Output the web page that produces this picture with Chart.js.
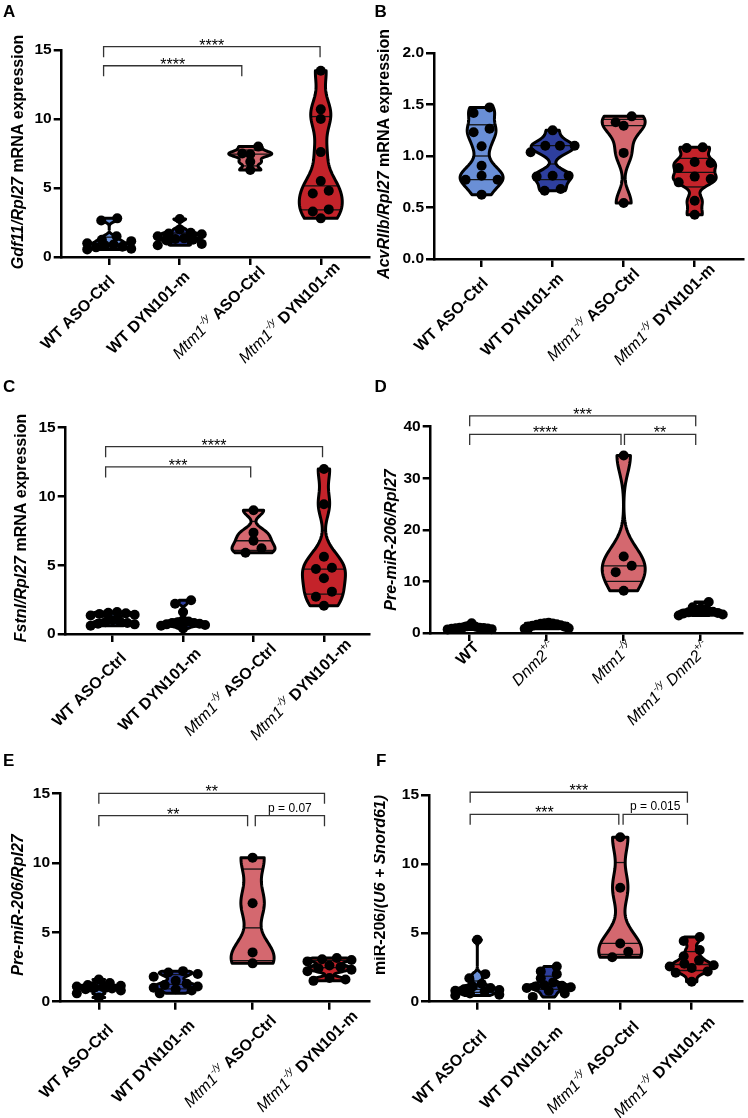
<!DOCTYPE html>
<html>
<head>
<meta charset="utf-8">
<script src="https://cdn.jsdelivr.net/npm/chart.js@4.4.1/dist/chart.umd.min.js"></script>
<style>
  body { margin: 0; background: #fff; }
  #page { position: relative; width: 748px; height: 1118px; overflow: hidden; }
  .panel { position: absolute; }
</style>
</head>
<body>
<div id="page"></div>
<script>
// Group colours (WT ctrl, WT treated, Mtm1 ctrl, Mtm1 treated)
const groupColors = ['#6a8fd6', '#2e3f9e', '#d4686f', '#c4232a'];

// Category labels, as [text, style] pieces
const treatmentLabels = [
    [['WT ASO-Ctrl', 'b']],
    [['WT DYN101-m', 'b']],
    [['Mtm1', 'i'], ['-/y', 'sup'], [' ASO-Ctrl', 'b']],
    [['Mtm1', 'i'], ['-/y', 'sup'], [' DYN101-m', 'b']]
];
const genotypeLabels = [
    [['WT', 'b']],
    [['Dnm2', 'i'], ['+/-', 'sup']],
    [['Mtm1', 'i'], ['-/y', 'sup']],
    [['Mtm1', 'i'], ['-/y', 'sup'], [' Dnm2', 'i'], ['+/-', 'sup']]
];

// A - Gdf11
const gdf11Values = [
    [2.8, 2.65, 1.5, 1.25, 1.15, 1.0, 0.9, 0.85, 0.75, 0.7, 0.6, 0.55],
    [2.75, 2.0, 1.75, 1.7, 1.65, 1.5, 1.35, 1.3, 1.25, 1.2, 0.95, 0.85],
    [8.0, 7.5, 7.45, 6.9, 6.3],
    [13.5, 10.7, 10.0, 7.6, 5.5, 4.8, 4.6, 3.45, 3.3, 2.8]
];
const gdf11Ticks = [0, 5, 10, 15];
const gdf11Brackets = [
    [-0.08, 2.99, 15.24, '****'],
    [-0.08, 1.88, 13.86, '****']
];
const gdf11Title = [['Gdf11/Rpl27', 'bi'], [' mRNA expression', 'b']];

// B - AcvRIIb
const acvr2bValues = [
    [1.472, 1.417, 1.265, 1.23, 1.094, 0.906, 0.809, 0.77, 0.77, 0.625],
    [1.249, 1.10, 1.10, 1.10, 1.036, 0.809, 0.809, 0.80, 0.68, 0.663],
    [1.385, 1.327, 1.294, 1.03, 0.544],
    [1.084, 1.078, 0.942, 0.932, 0.883, 0.80, 0.777, 0.744, 0.566, 0.43]
];
const acvr2bTicks = [0, 0.5, 1.0, 1.5, 2.0];
const acvr2bBrackets = [];
const acvr2bTitle = [['AcvRIIb/Rpl27', 'bi'], [' mRNA expression', 'b']];

// C - Fstnl
const fstnlValues = [
    [1.6, 1.55, 1.5, 1.45, 1.4, 1.35, 1.0, 0.9, 0.85, 0.8, 0.75, 0.7, 0.6],
    [2.45, 2.2, 1.6, 1.0, 0.9, 0.85, 0.8, 0.8, 0.75, 0.7, 0.65, 0.6, 0.4],
    [9.0, 7.37, 6.78, 6.23, 5.91],
    [12.0, 9.43, 5.62, 4.82, 4.72, 4.05, 3.08, 2.71, 2.06]
];
const fstnlTicks = [0, 5, 10, 15];
const fstnlBrackets = [
    [-0.10, 2.98, 13.62, '****'],
    [-0.10, 1.96, 12.15, '***']
];
const fstnlTitle = [['Fstnl/Rpl27', 'bi'], [' mRNA expression', 'b']];

// D - Pre-miR-206, Dnm2 cross
const crossValues = [
    [1.9, 1.3, 1.2, 1.1, 1.0, 1.0, 0.95, 0.9, 0.85, 0.8, 0.75, 0.7],
    [2.0, 1.9, 1.85, 1.8, 1.7, 1.6, 1.5, 1.4, 1.2, 1.0, 0.9, 0.8],
    [34.4, 14.84, 13.03, 11.8, 8.19],
    [6.0, 5.0, 4.6, 4.4, 4.3, 4.2, 4.1, 4.0, 3.9, 3.8, 3.6, 3.4]
];
const crossTicks = [0, 10, 20, 30, 40];
const crossBrackets = [
    [0, 2.935, 42.1, '***'],
    [0, 1.965, 38.5, '****'],
    [2.01, 2.935, 38.5, '**']
];
const preMirTitle = [['Pre-miR-206/Rpl27', 'bi']];

// E - Pre-miR-206, ASO
const preMirValues = [
    [1.6, 1.35, 1.2, 1.15, 1.1, 1.05, 1.0, 0.95, 0.9, 0.8, 0.6, 0.3],
    [2.2, 2.1, 2.0, 1.8, 1.5, 1.3, 1.2, 1.1, 1.0, 0.9, 0.8, 0.6],
    [10.37, 7.08, 3.55, 2.76],
    [3.15, 3.05, 3.0, 2.9, 2.6, 2.5, 2.4, 2.3, 2.2, 1.7, 1.6, 1.5]
];
const preMirTicks = [0, 5, 10, 15];
const preMirBrackets = [
    [0, 2.935, 15.0, '**'],
    [0, 1.935, 13.39, '**'],
    [2.035, 2.935, 13.39, 'p = 0.07']
];

// F - miR-206
const mirValues = [
    [4.5, 2.0, 1.7, 1.3, 1.1, 1.0, 0.9, 0.85, 0.8, 0.75, 0.6, 0.5, 0.45],
    [2.55, 2.2, 2.0, 1.7, 1.4, 1.2, 1.15, 1.1, 1.05, 1.0, 0.8, 0.6, 0.35],
    [11.93, 8.27, 4.23, 3.63, 3.22],
    [4.7, 4.4, 3.75, 3.3, 3.0, 2.75, 2.65, 2.55, 2.45, 2.2, 2.1, 1.45]
];
const mirTicks = [0, 5, 10, 15];
const mirBrackets = [
    [-0.10, 2.94, 15.2, '***'],
    [-0.10, 1.98, 13.6, '***'],
    [2.04, 2.94, 13.6, 'p = 0.015']
];
const mirTitle = [['miR-206/', 'b'], ['(U6 + Snord61)', 'bi']];

const FONT = '"Liberation Sans", Arial, Helvetica, sans-serif';
const Y_AXIS_W = 40;
const X_AXIS_H = 10;

// Layout of each panel: box = div on the page, area = chart area (left, top, right, bottom) in page px
const panels = [
    { letter: 'A', box: [0, 0, 374, 375], area: [61.7, 50, 374, 257], xRange: [-0.674, 3.684], yMax: 15,
      values: gdf11Values, ticks: gdf11Ticks, brackets: gdf11Brackets, labels: treatmentLabels,
      title: gdf11Title, titlePos: [19, 152], labelAlign: 'center', labelOff: [-31, 56], digits: 0, letterPos: [3, 17] },
    { letter: 'B', box: [374, 0, 374, 375], area: [434, 53, 746, 259], xRange: [-0.67, 3.68], yMax: 2,
      values: acvr2bValues, ticks: acvr2bTicks, brackets: acvr2bBrackets, labels: treatmentLabels,
      title: acvr2bTitle, titlePos: [385, 154], labelAlign: 'center', labelOff: [-30, 56], digits: 1, letterPos: [0.5, 17] },
    { letter: 'C', box: [0, 375, 374, 375], area: [65.7, 427.7, 373, 634], xRange: [-0.667, 3.64], yMax: 15,
      values: fstnlValues, ticks: fstnlTicks, brackets: fstnlBrackets, labels: treatmentLabels,
      title: fstnlTitle, titlePos: [22, 528], labelAlign: 'center', labelOff: [-23, 56], digits: 0, letterPos: [3, 17] },
    { letter: 'D', box: [374, 375, 374, 375], area: [430.7, 426.7, 742, 633], xRange: [-0.506, 3.536], yMax: 40,
      values: crossValues, ticks: crossTicks, brackets: crossBrackets, labels: genotypeLabels,
      title: preMirTitle, titlePos: [392, 540], labelAlign: 'right', labelOff: [7, 12], digits: 0, letterPos: [0.5, 17] },
    { letter: 'E', box: [0, 750, 374, 368], area: [60, 793.3, 370.7, 1001.7], xRange: [-0.505, 3.514], yMax: 15,
      values: preMirValues, ticks: preMirTicks, brackets: preMirBrackets, labels: treatmentLabels,
      title: preMirTitle, titlePos: [18.5, 905], labelAlign: 'center', labelOff: [-22, 60], digits: 0, letterPos: [3, 16] },
    { letter: 'F', box: [374, 750, 374, 368], area: [429, 795, 742.3, 1001.7], xRange: [-0.676, 3.708], yMax: 15,
      values: mirValues, ticks: mirTicks, brackets: mirBrackets, labels: treatmentLabels,
      title: mirTitle, titlePos: [381, 885], labelAlign: 'center', labelOff: [-27, 66], digits: 0, letterPos: [2, 16] }
];

// Quartile as Prism does it: position p*(n+1)
function quantile(sorted, p) {
    const n = sorted.length;
    const pos = p * (n + 1) - 1;
    if (pos <= 0) return sorted[0];
    if (pos >= n - 1) return sorted[n - 1];
    const lo = Math.floor(pos);
    return sorted[lo] + (pos - lo) * (sorted[lo + 1] - sorted[lo]);
}

function bandwidth(sorted) {
    const n = sorted.length;
    const mean = sorted.reduce((a, b) => a + b, 0) / n;
    const sd = Math.sqrt(sorted.reduce((a, v) => a + (v - mean) ** 2, 0) / (n - 1));
    const iqr = (quantile(sorted, 0.75) - quantile(sorted, 0.25)) / 1.34;
    const s = iqr > 0 ? Math.min(sd, iqr) : sd;
    return 0.45 * s * Math.pow(n, -0.2);
}

function density(sorted, bw, v) {
    let d = 0;
    sorted.forEach(x => {
        const z = (v - x) / bw;
        d += Math.exp(-0.5 * z * z);
    });
    return d;
}

function segFont(style) {
    if (style === 'b') return `bold 16px ${FONT}`;
    if (style === 'bi') return `italic bold 16px ${FONT}`;
    if (style === 'i') return `italic 16px ${FONT}`;
    return `italic 10px ${FONT}`;
}

// Draw [text, style] pieces on one line; x is the start, baseline middle
function drawPieces(ctx, pieces, x, y) {
    pieces.forEach(([text, style]) => {
        ctx.font = segFont(style);
        ctx.fillText(text, x, style === 'sup' ? y - 6 : y);
        x += ctx.measureText(text).width;
    });
}

function piecesWidth(ctx, pieces) {
    let w = 0;
    pieces.forEach(([text, style]) => {
        ctx.font = segFont(style);
        w += ctx.measureText(text).width;
    });
    return w;
}

// offsets for k points in a row, centre first then alternating sides
function rowSlots(k, gap) {
    const slots = [];
    for (let j = 0; j < k; j++) slots.push((j - (k - 1) / 2) * gap);
    return slots.sort((a, b) => Math.abs(a) - Math.abs(b) || b - a);
}

function violinPlugin(p) {
    return {
        id: 'violin' + p.letter,
        // spread points sideways so they do not sit on top of each other
        afterDatasetsUpdate(chart) {
            chart.data.datasets.forEach((ds, i) => {
                const els = chart.getDatasetMeta(i).data;
                const order = els.map((e, k) => k).sort((a, b) => els[a].y - els[b].y);
                const rows = [];
                let row = [];
                order.forEach(k => {
                    if (row.length && els[k].y - els[row[0]].y > 7) {
                        rows.push(row);
                        row = [];
                    }
                    row.push(k);
                });
                if (row.length) rows.push(row);
                rows.forEach(r => {
                    const gap = r.length > 1 ? Math.min(16, 44 / (r.length - 1)) : 0;
                    const slots = rowSlots(r.length, gap);
                    r.forEach((k, j) => { els[k].x += slots[j]; });
                });
            });
        },
        beforeDatasetsDraw(chart) {
            const ctx = chart.ctx;
            const xs = chart.scales.x, ys = chart.scales.y;
            p.values.forEach((vals, i) => {
                const sorted = [...vals].sort((a, b) => a - b);
                const lo = sorted[0], hi = sorted[sorted.length - 1];
                const bw = bandwidth(sorted);
                const prof = [];
                for (let k = 0; k <= 80; k++) {
                    const v = lo + (hi - lo) * k / 80;
                    prof.push([v, density(sorted, bw, v)]);
                }
                const dMax = Math.max(...prof.map(q => q[1]));
                const halfW = 21.5;
                const cx = xs.getPixelForValue(i);
                const path = new Path2D();
                prof.forEach(([v, d], k) => {
                    const px = cx + d / dMax * halfW, py = ys.getPixelForValue(v);
                    if (k) path.lineTo(px, py); else path.moveTo(px, py);
                });
                for (let k = prof.length - 1; k >= 0; k--) {
                    path.lineTo(cx - prof[k][1] / dMax * halfW, ys.getPixelForValue(prof[k][0]));
                }
                path.closePath();
                ctx.save();
                ctx.fillStyle = groupColors[i];
                ctx.fill(path);
                ctx.strokeStyle = '#111';
                ctx.lineWidth = 1.3;
                [0.25, 0.5, 0.75].forEach(q => {
                    const qv = quantile(sorted, q);
                    const w = density(sorted, bw, qv) / dMax * halfW;
                    const py = ys.getPixelForValue(qv);
                    ctx.beginPath();
                    ctx.moveTo(cx - w, py);
                    ctx.lineTo(cx + w, py);
                    ctx.stroke();
                });
                ctx.strokeStyle = '#000';
                ctx.lineWidth = 3;
                ctx.lineJoin = 'round';
                ctx.stroke(path);
                ctx.restore();
            });
        },
        afterDraw(chart) {
            const ctx = chart.ctx;
            const xs = chart.scales.x, ys = chart.scales.y;
            const bx = p.box[0], by = p.box[1];
            ctx.save();
            ctx.fillStyle = '#000';

            // significance brackets
            ctx.strokeStyle = '#333';
            ctx.lineWidth = 1.3;
            ctx.textAlign = 'center';
            p.brackets.forEach(([from, to, level, text]) => {
                const x1 = xs.getPixelForValue(from), x2 = xs.getPixelForValue(to);
                const y = ys.getPixelForValue(level);
                ctx.beginPath();
                ctx.moveTo(x1, y + 10.5);
                ctx.lineTo(x1, y);
                ctx.lineTo(x2, y);
                ctx.lineTo(x2, y + 10.5);
                ctx.stroke();
                ctx.textBaseline = 'alphabetic';
                if (text.startsWith('*')) {
                    ctx.font = `16px ${FONT}`;
                    ctx.fillText(text, (x1 + x2) / 2, y + 4);
                } else {
                    ctx.font = `12px ${FONT}`;
                    ctx.fillText(text, (x1 + x2) / 2, y - 4);
                }
            });

            // rotated category labels
            ctx.textAlign = 'left';
            ctx.textBaseline = 'middle';
            p.labels.forEach((pieces, i) => {
                const w = piecesWidth(ctx, pieces);
                ctx.save();
                ctx.translate(xs.getPixelForValue(i) + p.labelOff[0], chart.chartArea.bottom + p.labelOff[1]);
                ctx.rotate(-Math.PI / 4);
                drawPieces(ctx, pieces, p.labelAlign === 'center' ? -w / 2 : -w, 0);
                ctx.restore();
            });

            // y axis title
            const tw = piecesWidth(ctx, p.title);
            ctx.save();
            ctx.translate(p.titlePos[0] - bx, p.titlePos[1] - by);
            ctx.rotate(-Math.PI / 2);
            drawPieces(ctx, p.title, -tw / 2, 0);
            ctx.restore();

            // panel letter
            ctx.font = `bold 17px ${FONT}`;
            ctx.textBaseline = 'alphabetic';
            ctx.fillText(p.letter, p.letterPos[0], p.letterPos[1]);
            ctx.restore();
        }
    };
}

function makePanel(p) {
    const [bx, by, bw, bh] = p.box;
    const [L, T, R, B] = p.area;
    const div = document.createElement('div');
    div.className = 'panel';
    div.style.left = bx + 'px';
    div.style.top = by + 'px';
    div.style.width = bw + 'px';
    div.style.height = bh + 'px';
    const canvas = document.createElement('canvas');
    canvas.width = bw;
    canvas.height = bh;
    div.appendChild(canvas);
    document.getElementById('page').appendChild(div);

    const axisLine = { color: '#000', width: 2.5 };
    const tickMarks = { drawOnChartArea: false, drawTicks: true, tickLength: 8, color: '#000', lineWidth: 2.5 };

    new Chart(canvas, {
        type: 'scatter',
        data: {
            datasets: p.values.map((vals, i) => ({
                data: vals.map(v => ({ x: i, y: v })),
                backgroundColor: '#000',
                borderWidth: 0,
                pointRadius: 5,
                clip: false
            }))
        },
        options: {
            responsive: false,
            animation: false,
            devicePixelRatio: 1,
            events: [],
            layout: {
                padding: { left: L - bx - Y_AXIS_W, top: T - by, right: bx + bw - R, bottom: by + bh - B - X_AXIS_H }
            },
            plugins: { legend: { display: false }, tooltip: { enabled: false } },
            scales: {
                x: {
                    type: 'linear',
                    min: p.xRange[0],
                    max: p.xRange[1],
                    afterBuildTicks: s => { s.ticks = [0, 1, 2, 3].map(v => ({ value: v })); },
                    afterFit: s => { s.height = X_AXIS_H; },
                    ticks: { callback: () => '' },
                    grid: tickMarks,
                    border: axisLine
                },
                y: {
                    min: 0,
                    max: p.yMax,
                    afterBuildTicks: s => { s.ticks = p.ticks.map(v => ({ value: v })); },
                    afterFit: s => { s.width = Y_AXIS_W; },
                    ticks: {
                        callback: v => v.toFixed(p.digits),
                        color: '#000',
                        padding: 2,
                        font: { family: FONT, size: 15.5, weight: 'bold' }
                    },
                    grid: tickMarks,
                    border: axisLine
                }
            }
        },
        plugins: [violinPlugin(p)]
    });
}

panels.forEach(makePanel);
</script>
</body>
</html>
